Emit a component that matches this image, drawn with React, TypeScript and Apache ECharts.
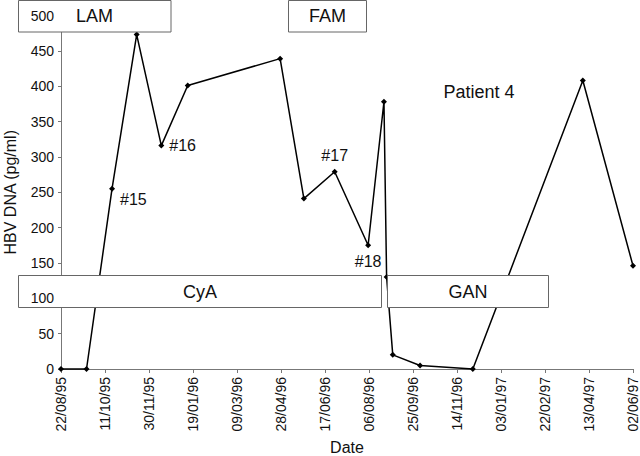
import React, { useEffect, useRef } from "react";
import * as echarts from "echarts";

// Sample dates and HBV DNA values (pg/ml)
const sampleDates: string[] = [
  "1995-08-22", "1995-09-20", "1995-10-19", "1995-11-16", "1995-12-14",
  "1996-01-13", "1996-04-27", "1996-05-24", "1996-06-28", "1996-08-05",
  "1996-08-23", "1996-08-26", "1996-09-02", "1996-10-03", "1996-12-02",
  "1997-04-06", "1997-06-02",
];
const hbvValues: number[] = [
  0, 0, 255, 473, 316, 401, 439, 241, 279, 175, 378, 130, 20, 5, 0, 408, 146,
];
const sampleTags: (string | null)[] = [
  null, null, "#15", null, "#16", null, null, null, "#17", "#18",
  null, null, null, null, null, null, null,
];
const tagPositions: (string | null)[] = [
  null, null, "right", null, "right", null, null, null, "top", "bottom",
  null, null, null, null, null, null, null,
];

const startDate = "1995-08-22";
const endDate = "1997-06-02";
const tickDays = 50;
const yTicks = [0, 50, 100, 150, 200, 250, 300, 350, 400, 450, 500];

const DAY = 86400000;
const toDays = (s: string) => {
  const [y, m, d] = s.split("-").map(Number);
  const [by, bm, bd] = startDate.split("-").map(Number);
  return Math.round((Date.UTC(y, m - 1, d) - Date.UTC(by, bm - 1, bd)) / DAY);
};
const pad = (n: number) => (n < 10 ? "0" + n : "" + n);
const fmtDay = (v: number) => {
  const [by, bm, bd] = startDate.split("-").map(Number);
  const d = new Date(Date.UTC(by, bm - 1, bd) + v * DAY);
  return `${pad(d.getUTCDate())}/${pad(d.getUTCMonth() + 1)}/${pad(d.getUTCFullYear() % 100)}`;
};

const FONT = "Liberation Sans, Arial, sans-serif";

export default function App() {
  const ref = useRef<HTMLDivElement>(null);
  useEffect(() => {
    if (!ref.current) return;
    const chart = echarts.init(ref.current, null, { renderer: "svg" });
    const data = sampleDates.map((s, i) => {
      const item: any = { value: [toDays(s), hbvValues[i]] };
      if (sampleTags[i]) {
        const pos = tagPositions[i];
        item.label = {
          show: true,
          formatter: sampleTags[i],
          position: pos,
          distance: 5,
          offset: sampleTags[i] === "#15" ? [0, 11] : [0, 0],
          fontSize: 16,
          fontFamily: FONT,
          color: "#111",
        };
      }
      return item;
    });
    const box = (x: number, y: number, w: number, h: number) => ({
      type: "rect",
      z: 5,
      shape: { x, y, width: w, height: h },
      style: { fill: "#fff", stroke: "#666", lineWidth: 1 },
    });
    const txt = (x: number, y: number, t: string) => ({
      type: "text",
      z: 6,
      x,
      y,
      style: {
        text: t,
        fontSize: 18,
        fontFamily: FONT,
        fill: "#111",
        align: "center",
        verticalAlign: "middle",
      },
    });
    chart.setOption({
      animation: false,
      backgroundColor: "#fff",
      grid: {
        left: 61,
        right: 7,
        top: 15.5,
        bottom: 87,
        containLabel: false,
        outerBoundsMode: "none",
      },
      xAxis: {
        type: "value",
        min: 0,
        max: toDays(endDate),
        interval: tickDays,
        name: "Date",
        nameLocation: "middle",
        nameGap: 68,
        nameTextStyle: { fontSize: 16, fontFamily: FONT, color: "#111" },
        axisLine: { show: true, lineStyle: { color: "#777", width: 1 } },
        axisTick: { show: true, length: 4, lineStyle: { color: "#777" } },
        axisLabel: {
          rotate: 90,
          margin: 8,
          fontSize: 14,
          fontFamily: FONT,
          color: "#111",
          formatter: (v: number) => fmtDay(v),
        },
        splitLine: { show: false },
      },
      yAxis: [
        {
          type: "value",
          min: yTicks[0],
          max: yTicks[yTicks.length - 1],
          interval: yTicks[1] - yTicks[0],
          z: 0,
          axisLine: { show: true, lineStyle: { color: "#777", width: 1 } },
          axisTick: { show: true, length: 3, lineStyle: { color: "#777" } },
          axisLabel: { show: false },
          splitLine: { show: false },
        },
        {
          type: "value",
          position: "left",
          min: yTicks[0],
          max: yTicks[yTicks.length - 1],
          interval: yTicks[1] - yTicks[0],
          z: 10,
          name: "HBV DNA (pg/ml)",
          nameLocation: "middle",
          nameGap: 43,
          nameTextStyle: { fontSize: 16, fontFamily: FONT, color: "#111" },
          axisLine: { show: false },
          axisTick: { show: false },
          axisLabel: { margin: 7, fontSize: 14, fontFamily: FONT, color: "#111" },
          splitLine: { show: false },
        },
      ],
      series: [
        {
          type: "line",
          yAxisIndex: 0,
          data,
          z: 2,
          symbol: "diamond",
          symbolSize: 6,
          showAllSymbol: true,
          lineStyle: { color: "#000", width: 1.5 },
          itemStyle: { color: "#000" },
          clip: false,
        },
      ],
      graphic: [
        box(18.5, 0.5, 152.5, 31.5),
        txt(94.5, 16, "LAM"),
        box(288.5, 0.5, 78, 31.5),
        txt(327.5, 16, "FAM"),
        box(18.5, 275.5, 363, 32),
        txt(200, 291.5, "CyA"),
        box(387.5, 275.5, 161, 32),
        txt(468, 291.5, "GAN"),
        {
          type: "text",
          z: 6,
          x: 479,
          y: 92,
          style: {
            text: "Patient 4",
            fontSize: 18,
            fontFamily: FONT,
            fill: "#111",
            align: "center",
            verticalAlign: "middle",
          },
        },
      ],
    });
    return () => chart.dispose();
  }, []);
  return (
    <div
      ref={ref}
      style={{ position: "absolute", left: 0, top: 0, width: 640, height: 456 }}
    />
  );
}
